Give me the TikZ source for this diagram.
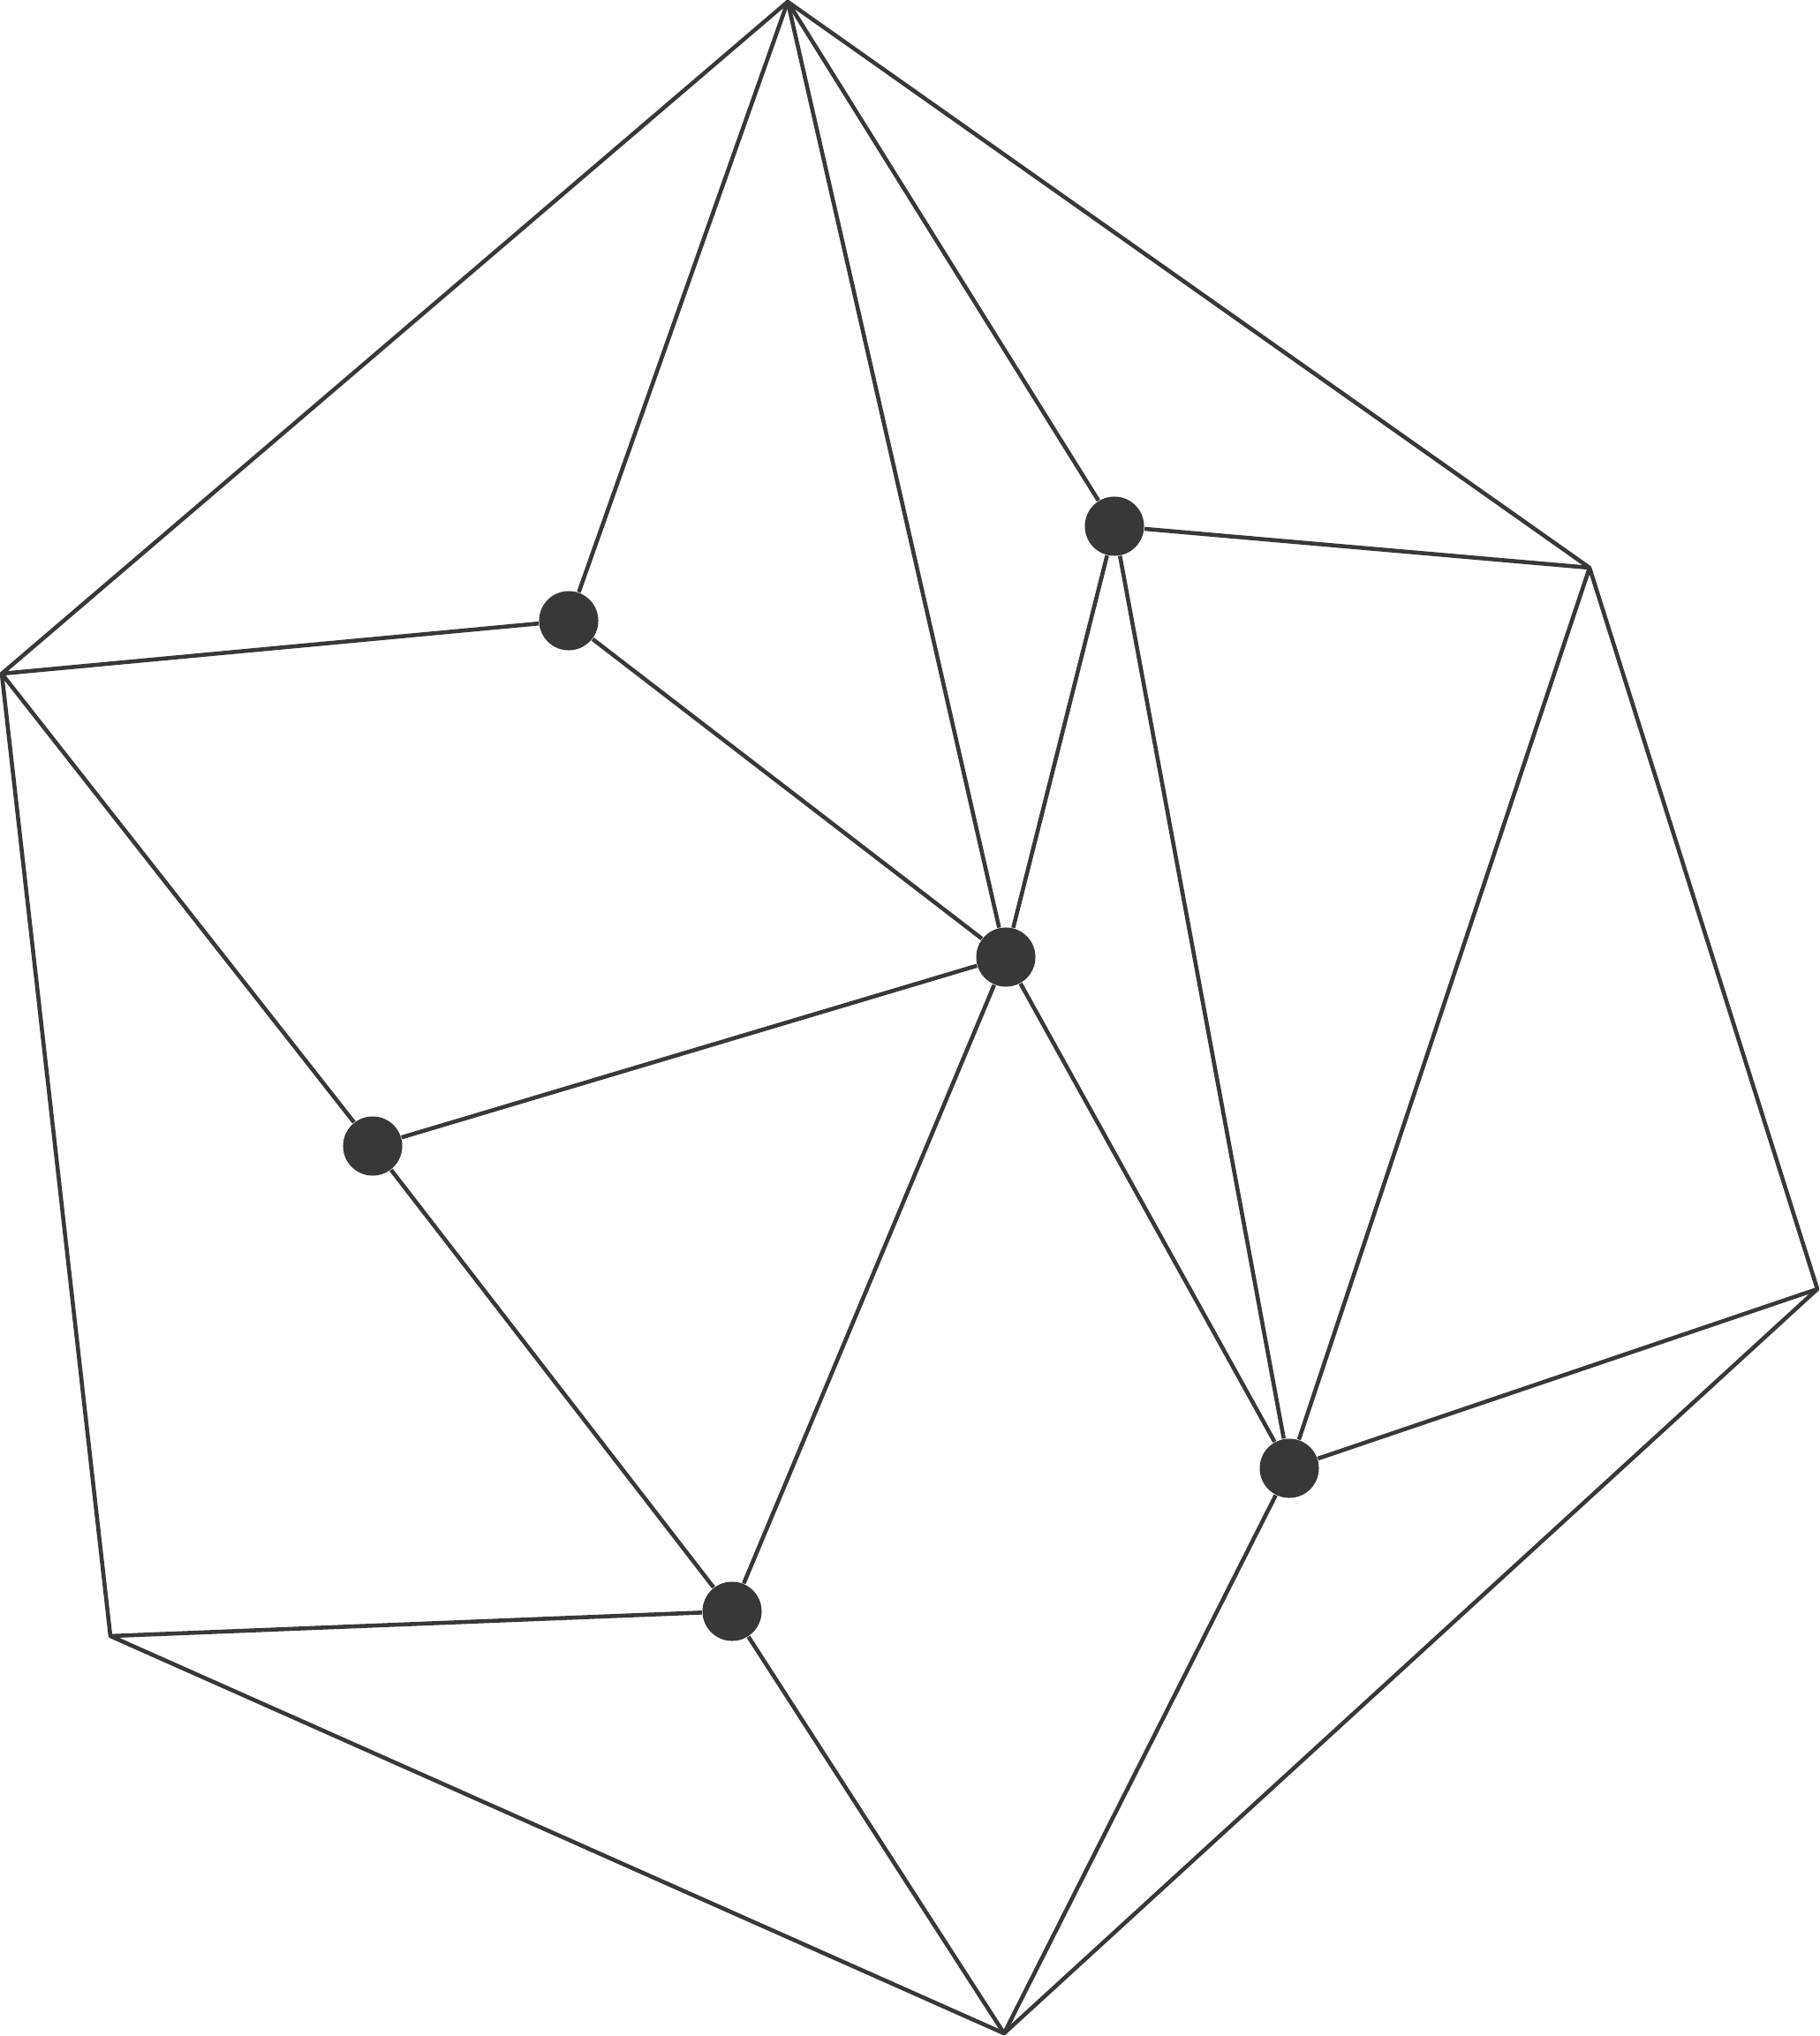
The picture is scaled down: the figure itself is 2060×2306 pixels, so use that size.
\documentclass[tikz,border=0pt]{standalone}
\usepackage{tikz}
\definecolor{ink}{RGB}{56,56,56}

\begin{document}
\begin{tikzpicture}[x=0.01cm,y=-0.01cm]
\tikzstyle{edge}=[draw=ink,line width=1.3pt,line join=round]
\tikzstyle{dot}=[circle,fill=ink,inner sep=0pt,minimum size=0.67cm]
\useasboundingbox (0,0) rectangle (2060,2306);
% outer corners
\coordinate (top) at (892,2);
\coordinate (left) at (2,763);
\coordinate (rightup) at (1800,643);
\coordinate (right) at (2058,1460);
\coordinate (bottom) at (1137,2303);
\coordinate (botleft) at (125,1853);
% inner points
\node [dot] (p1) at (644,703) {};
\node [dot] (p2) at (1262,596) {};
\node [dot] (p3) at (1139,1084) {};
\node [dot] (p4) at (422,1298) {};
\node [dot] (p5) at (1460,1663) {};
\node [dot] (p6) at (829,1825) {};
% hull
\draw[edge] (top) -- (left) -- (botleft) -- (bottom) -- (right) -- (rightup) -- cycle;
% from the top
\draw[edge] (top) -- (p1);
\draw[edge] (top) -- (p3);
\draw[edge] (top) -- (p2);
% left side
\draw[edge] (left) -- (p1);
\draw[edge] (left) -- (p4);
\draw[edge] (p1) -- (p3);
\draw[edge] (p4) -- (p3);
\draw[edge] (p4) -- (p6);
\draw[edge] (botleft) -- (p6);
\draw[edge] (p6) -- (bottom);
\draw[edge] (p6) -- (p3);
% right side
\draw[edge] (p2) -- (rightup);
\draw[edge] (p2) -- (p3);
\draw[edge] (p2) -- (p5);
\draw[edge] (p3) -- (p5);
\draw[edge] (rightup) -- (p5);
\draw[edge] (right) -- (p5);
\draw[edge] (p5) -- (bottom);
\end{tikzpicture}
\end{document}
